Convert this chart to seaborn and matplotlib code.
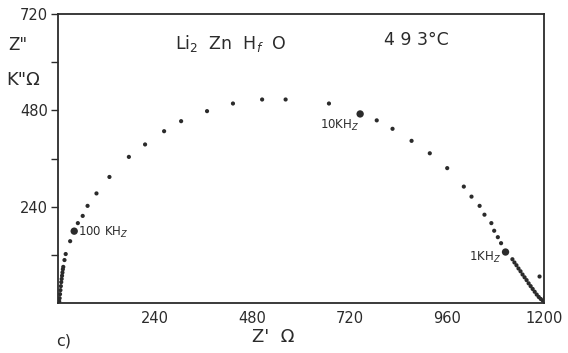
import matplotlib
matplotlib.use("Agg")
import matplotlib.pyplot as plt
import seaborn as sns
import pandas as pd

# Impedance data (Z', Z'')
z_real = [3, 4, 5, 6, 7, 8, 9, 10, 11, 12, 13, 16, 19, 30, 40, 49, 61, 73, 95,
          127, 175, 215, 262, 304, 368, 432, 504, 562, 669, 746, 787, 826, 873,
          918, 961, 1002, 1021, 1041, 1053, 1070, 1077, 1086, 1094, 1105, 1122,
          1127, 1132, 1137, 1142, 1147, 1152, 1157, 1162, 1167, 1172, 1177, 1182,
          1187, 1192, 1197, 1203, 1208, 1189]
z_imag = [4, 12, 22, 32, 42, 52, 60, 68, 76, 84, 90, 107, 122, 154, 179, 199, 217,
          242, 273, 314, 364, 395, 428, 453, 478, 497, 507, 507, 497, 471, 455,
          434, 404, 373, 336, 290, 265, 242, 220, 199, 180, 164, 149, 127, 109,
          101, 94, 86, 79, 71, 64, 57, 49, 42, 35, 28, 21, 15, 10, 6, 14, 20, 66]

# Marked frequencies
freq_labels = ["100 KH$_Z$", "10KH$_Z$", "1KH$_Z$"]
freq_real = [40, 746, 1105]
freq_imag = [179, 471, 127]

x_ticks = [240, 480, 720, 960, 1200]
y_ticks = [240, 480, 720]
minor_x = [120, 360, 600, 840, 1080]
minor_y = [120, 360, 600]

df = pd.DataFrame({"Zr": z_real, "Zi": z_imag})
dfm = pd.DataFrame({"Zr": freq_real, "Zi": freq_imag})

sns.set_style("white")
plt.rcParams["font.family"] = ["DejaVu Sans"]
ink = "#2b2b2b"

fig = plt.figure(figsize=(5.68, 3.53), dpi=100)
ax = fig.add_axes([58/568, 1-303/353, 486/568, 289/353])

sns.scatterplot(data=df, x="Zr", y="Zi", ax=ax, s=9, color=ink, edgecolor="none", legend=False)
sns.scatterplot(data=dfm, x="Zr", y="Zi", ax=ax, s=28, color=ink, edgecolor="none", legend=False)

ax.set_xlim(0, 1200)
ax.set_ylim(0, 720)
ax.set_xticks(x_ticks)
ax.set_yticks(y_ticks)
ax.set_xticks(minor_x, minor=True)
ax.set_yticks(minor_y, minor=True)
ax.set_xticklabels([str(v) for v in x_ticks])
ax.set_yticklabels([str(v) for v in y_ticks])
ax.tick_params(axis="x", which="both", direction="in", length=5, width=1, color=ink,
               labelsize=10.5, labelcolor=ink, pad=6)
ax.tick_params(axis="y", which="both", direction="out", length=5, width=1, color=ink,
               labelsize=10.5, labelcolor=ink, pad=2, left=True)
ax.set_xlabel("")
ax.set_ylabel("")
for sp in ax.spines.values():
    sp.set_color(ink)
    sp.set_linewidth(1.3)
    sp.set_visible(True)

# frequency annotations
offsets = [(3, -1), (-29, -8), (-26, -4)]
for lab, xr, yi, (dx, dy) in zip(freq_labels, freq_real, freq_imag, offsets):
    ax.annotate(lab, (xr, yi), xytext=(dx, dy), textcoords="offset points",
                fontsize=8.5, color=ink, va="center", ha="left")

fig.text(175/568, 1-43/353, "Li$_2$  Zn  H$_f$  O", fontsize=12.5, color=ink, va="center", ha="left")
fig.text(384/568, 1-40/353, "4 9 3°C", fontsize=12.5, color=ink, va="center", ha="left")
fig.text(8/568, 1-45/353, 'Z"', fontsize=12, color=ink, va="center", ha="left")
fig.text(6/568, 1-80/353, 'K"Ω', fontsize=13, color=ink, va="center", ha="left")
fig.text(252/568, 1-337/353, "Z'  Ω", fontsize=13, color=ink, va="center", ha="left")
fig.text(56/568, 1-341/353, "c)", fontsize=11.5, color=ink, va="center", ha="left")

fig.savefig("out.png", dpi=100)
